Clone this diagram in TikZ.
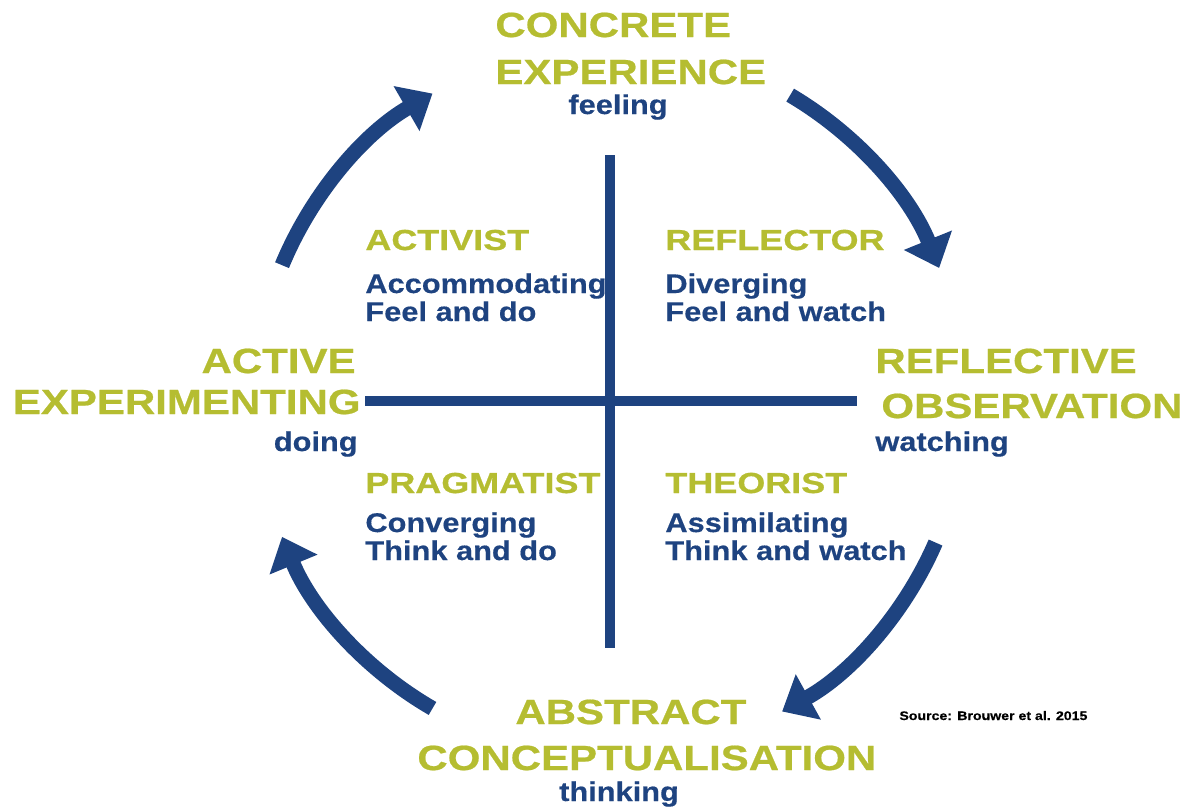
\documentclass[tikz,border=0pt]{standalone}
\usepackage{fontspec}
\usepackage{tikz}
\usetikzlibrary{arrows.meta,positioning}
\newfontfamily\polefont[FakeStretch=1.2,FakeBold=0.6]{Liberation Sans}
\newfontfamily\quadfont[FakeStretch=1.24,FakeBold=0.6]{Liberation Sans}
\newfontfamily\modefont[FakeStretch=1.14,FakeBold=0.4]{Liberation Sans}
\definecolor{kolbgreen}{RGB}{181,189,49}
\definecolor{kolbblue}{RGB}{30,67,128}
\tikzset{pole/.style={
        text=kolbgreen, 
        font=\polefont\bfseries\fontsize{17.5}{20}\selectfont, 
        inner sep=0pt } }
\tikzset{quad/.style={
        text=kolbgreen, 
        font=\quadfont\bfseries\fontsize{14.5}{17}\selectfont, 
        inner sep=0pt } }
\tikzset{mode/.style={
        text=kolbblue, 
        font=\modefont\bfseries\fontsize{13.5}{16}\selectfont, 
        inner sep=0pt } }
\tikzset{cross/.style={ draw=kolbblue, line width=4.6pt } }
\tikzset{cyclearrow/.style={
        draw=kolbblue, 
        line width=7.5pt, 
        -{Triangle[length=15pt,width=25pt]} } }
\begin{document}
\begin{tikzpicture}[x=0.5pt,y=-0.5pt]
\useasboundingbox (0,0) rectangle (1195,810);

\coordinate (hub) at (610,401);
\coordinate (vtop) at (610,155);
\coordinate (vbot) at (610,648);
\coordinate (hleft) at (365,401);
\coordinate (hright) at (857,401);

%%POLES
\node[pole, anchor=base west] (ce1) at (495,37) {CONCRETE};
\node[pole] (ce2) [below=23.5pt of ce1.base west, anchor=base west] {EXPERIENCE};
\node[mode, anchor=base] (ce3) at (618,114) {feeling};

\node[pole, anchor=base east] (ae1) at (356,373) {ACTIVE};
\node[pole, anchor=base east] (ae2) at (361,414) {EXPERIMENTING};
\node[mode, anchor=base east] (ae3) at (358,451) {doing};

\node[pole, anchor=base west] (ro1) at (875,373) {REFLECTIVE};
\node[pole, anchor=base west] (ro2) at (881,418) {OBSERVATION};
\node[mode, anchor=base west] (ro3) at (875,451) {watching};

\node[pole, anchor=base west] (ac1) at (515,724) {ABSTRACT};
\node[pole, anchor=base west] (ac2) at (417,770) {CONCEPTUALISATION};
\node[mode, anchor=base] (ac3) at (619,801) {thinking};

%%QUADRANTS
\node[quad, anchor=base west] (act1) at (365,250) {ACTIVIST};
\node[mode] (act2) [below=21.5pt of act1.base west, anchor=base west] {Accommodating};
\node[mode] (act3) [below=14pt of act2.base west, anchor=base west] {Feel and do};

\node[quad, anchor=base west] (ref1) at (665,250) {REFLECTOR};
\node[mode] (ref2) [below=21.5pt of ref1.base west, anchor=base west] {Diverging};
\node[mode] (ref3) [below=14pt of ref2.base west, anchor=base west] {Feel and watch};

\node[quad, anchor=base west] (pra1) at (365,493) {PRAGMATIST};
\node[mode] (pra2) [below=19.5pt of pra1.base west, anchor=base west] {Converging};
\node[mode] (pra3) [below=14pt of pra2.base west, anchor=base west] {Think and do};

\node[quad, anchor=base west] (the1) at (665,493) {THEORIST};
\node[mode] (the2) [below=19.5pt of the1.base west, anchor=base west] {Assimilating};
\node[mode] (the3) [below=14pt of the2.base west, anchor=base west] {Think and watch};

\node[mode, text=black, font=\modefont\bfseries\fontsize{6.2}{7}\selectfont, anchor=base west] (src) at (899,720) {Source: Brouwer et al. 2015};

%%AXES
\draw[cross] (vtop) -- (vbot);
\draw[cross] (hleft) -- (hright);

%%CYCLE
\coordinate (aeout) at ([shift={(-157.5:355)}]hub);
\coordinate (ceout) at ([shift={(-59.5:355)}]hub);
\coordinate (roout) at ([shift={(23.5:355)}]hub);
\coordinate (acout) at ([shift={(120:355)}]hub);

\draw[cyclearrow] (aeout) arc[start angle=-157.5, end angle=-120, radius=355];
\draw[cyclearrow] (ceout) arc[start angle=-59.5, end angle=-22, radius=355];
\draw[cyclearrow] (roout) arc[start angle=23.5, end angle=61, radius=355];
\draw[cyclearrow] (acout) arc[start angle=120, end angle=157.5, radius=355];

\end{tikzpicture}
\end{document}
